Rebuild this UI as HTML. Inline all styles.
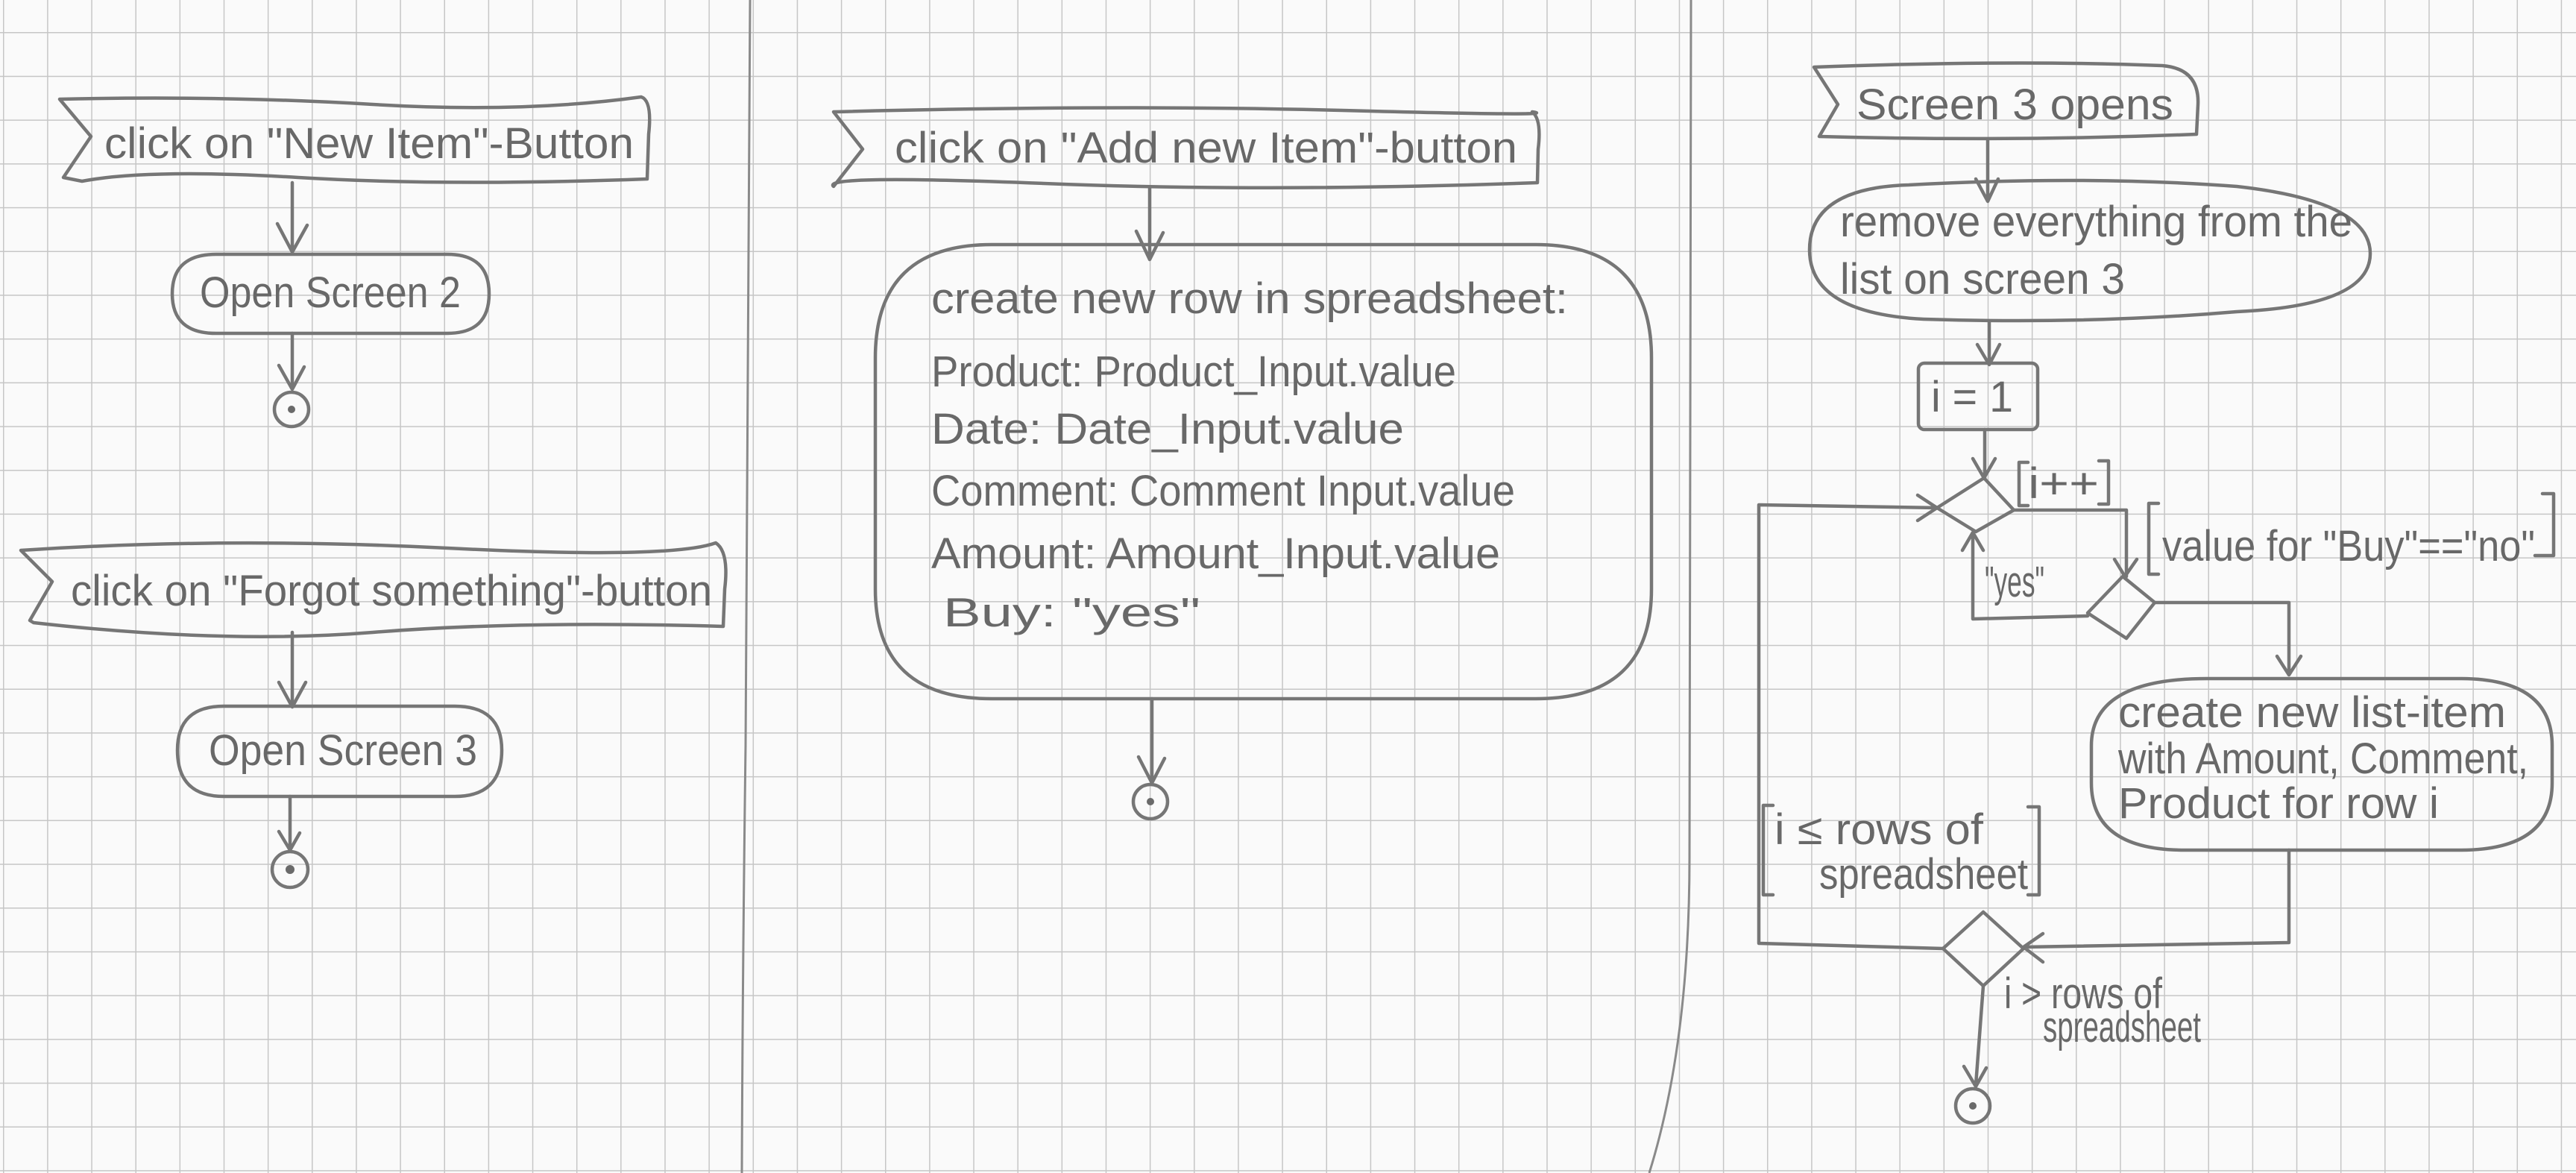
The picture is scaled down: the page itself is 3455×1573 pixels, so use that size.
<!DOCTYPE html>
<html><head><meta charset="utf-8"><style>
html,body{margin:0;padding:0;background:#f9f9f9}
svg{display:block}
text{font-family:"Liberation Sans",sans-serif;fill:#686868}
</style></head><body>
<svg width="3455" height="1573" viewBox="0 0 3455 1573" xmlns="http://www.w3.org/2000/svg">
<defs>
<pattern id="g" patternUnits="userSpaceOnUse" x="4" y="43" width="59.15" height="58.7">
<path d="M0 0V58.7M0 0H59.15" stroke="#c6c6c6" stroke-width="3" fill="none"/>
</pattern>
</defs>
<rect width="3455" height="1573" fill="#fafafa"/>
<rect width="3455" height="1573" fill="url(#g)"/>
<g fill="none" stroke="#8a8a8a" stroke-width="3">
<path d="M1006 0 Q1004 700 1000 1000 T995 1573"/>
<path d="M2268 0 Q2266 900 2266 1150 T2212 1573"/>
</g>
<g fill="none" stroke="#767676" stroke-width="4.5" stroke-linecap="round" stroke-linejoin="round">
<!-- panel 1 -->
<path d="M80 133 Q300 128 500 140 T860 130 Q875 135 870 180 L868 240 Q600 250 400 238 T110 243 L85 238 L122 183 Z"/>
<path d="M392 245 V335 M372 300 L392 338 L412 302"/>
<path d="M290 341 H600 Q656 341 656 394 Q656 447 600 447 H290 Q231 447 231 394 Q231 341 290 341 Z"/>
<path d="M392 447 V520 M374 490 L392 522 L408 492"/>
<circle cx="391" cy="549" r="23"/>
<path d="M28 738 Q300 720 600 735 T960 728 Q978 740 972 790 L970 840 Q700 832 500 848 T45 835 L40 832 L70 780 Z"/>
<path d="M392 848 V945 M374 915 L392 948 L410 915"/>
<path d="M300 947 H610 Q673 947 673 1006 Q673 1068 610 1068 H300 Q238 1068 238 1006 Q238 947 300 947 Z"/>
<path d="M389 1068 V1138 M374 1115 L389 1140 L402 1117"/>
<circle cx="389" cy="1166" r="24"/>
<!-- panel 2 -->
<path d="M1118 150 Q1500 140 1800 148 T2055 150 Q2068 160 2063 200 L2062 245 Q1700 258 1400 246 T1118 250 L1157 200 Z"/>
<path d="M1542 251 V345 M1524 310 L1542 348 L1560 312"/>
<path d="M1330 328 H2060 Q2215 328 2215 480 V790 Q2215 937 2060 937 H1330 Q1174 937 1174 790 V480 Q1174 328 1330 328 Z"/>
<path d="M1545 937 V1048 M1527 1015 L1545 1050 L1562 1017"/>
<circle cx="1543" cy="1075" r="23"/>
<!-- panel 3 -->
<path d="M2433 90 Q2700 80 2900 88 Q2950 92 2948 140 L2946 180 Q2700 190 2440 183 L2465 140 Z"/>
<path d="M2666 187 V268 M2650 240 L2666 270 L2680 240"/>
<path d="M2560 248 Q2800 235 3000 250 Q3179 270 3179 340 Q3179 410 3000 418 Q2800 435 2580 428 Q2427 420 2427 335 Q2427 252 2560 248 Z"/>
<path d="M2668 431 V487 M2652 462 L2668 489 L2682 462"/>
<rect x="2573" y="487" width="160" height="89" rx="8"/>
<path d="M2662 576 V641 M2646 615 L2661 641 L2676 615"/>
<path d="M2661 641 L2701 684 L2650 713 L2598 681 Z"/>
<path d="M2701 684 H2852 V773 M2836 750 L2850 773 L2866 750"/>
<path d="M2847 773 L2890 808 L2852 856 L2800 822 Z"/>
<path d="M2800 826 L2646 830 V716 M2632 738 L2646 714 L2660 738"/>
<path d="M2890 808 H3070 V905 M3054 880 L3070 905 L3086 880"/>
<path d="M2960 910 H3300 Q3423 910 3423 1000 V1050 Q3423 1140 3300 1140 H2930 Q2805 1140 2805 1050 V1000 Q2805 910 2960 910 Z"/>
<path d="M3070 1140 V1264 L2714 1270 M2740 1252 L2714 1270 L2740 1290"/>
<path d="M2660 1223 L2714 1272 L2660 1322 L2606 1272 Z"/>
<path d="M2606 1272 L2359 1265 V677 L2598 681 M2572 664 L2598 681 L2572 698"/>
<path d="M2660 1322 L2650 1455 M2634 1430 L2650 1457 L2664 1432"/>
<circle cx="2646" cy="1483" r="23"/>
<!-- brackets -->
<path d="M2720 620 H2708 V678 H2720 M2815 618 H2828 V676 H2815"/>
<path d="M2895 675 H2882 V770 H2895 M3410 662 H3425 V745 H3400"/>
<path d="M2378 1080 H2365 V1200 H2378 M2720 1082 H2735 V1200 H2720"/>
</g>
<g fill="#6a6a6a">
<circle cx="391" cy="549" r="5"/><circle cx="389" cy="1166" r="6"/><circle cx="1543" cy="1075" r="5"/><circle cx="2646" cy="1483" r="5"/>
</g>
<g font-size="58">
<text x="140" y="212" textLength="710" lengthAdjust="spacingAndGlyphs">click on "New Item"-Button</text>
<text x="268" y="412" textLength="350" lengthAdjust="spacingAndGlyphs">Open Screen 2</text>
<text x="95" y="812" textLength="860" lengthAdjust="spacingAndGlyphs">click on "Forgot something"-button</text>
<text x="280" y="1026" textLength="360" lengthAdjust="spacingAndGlyphs">Open Screen 3</text>
<text x="1200" y="218" textLength="835" lengthAdjust="spacingAndGlyphs">click on "Add new Item"-button</text>
<text x="1249" y="420" textLength="854" lengthAdjust="spacingAndGlyphs">create new row in spreadsheet:</text>
<text x="1249" y="518" textLength="704" lengthAdjust="spacingAndGlyphs">Product: Product_Input.value</text>
<text x="1249" y="595" textLength="634" lengthAdjust="spacingAndGlyphs">Date: Date_Input.value</text>
<text x="1249" y="678" textLength="783" lengthAdjust="spacingAndGlyphs">Comment: Comment Input.value</text>
<text x="1249" y="762" textLength="763" lengthAdjust="spacingAndGlyphs">Amount: Amount_Input.value</text>
<text x="1265" y="840" font-size="55" textLength="345" lengthAdjust="spacingAndGlyphs">Buy: "yes"</text>
<text x="2490" y="160" textLength="425" lengthAdjust="spacingAndGlyphs">Screen 3 opens</text>
<text x="2468" y="317" textLength="687" lengthAdjust="spacingAndGlyphs">remove everything from the</text>
<text x="2468" y="394" textLength="382" lengthAdjust="spacingAndGlyphs">list on screen 3</text>
<text x="2590" y="552" textLength="110" lengthAdjust="spacingAndGlyphs">i = 1</text>
<text x="2720" y="668" textLength="95" lengthAdjust="spacingAndGlyphs">i++</text>
<text x="2900" y="752" textLength="500" lengthAdjust="spacingAndGlyphs">value for "Buy"=="no"</text>
<text x="2662" y="800" textLength="80" lengthAdjust="spacingAndGlyphs">"yes"</text>
<text x="2841" y="975" textLength="520" lengthAdjust="spacingAndGlyphs">create new list-item</text>
<text x="2841" y="1037" textLength="550" lengthAdjust="spacingAndGlyphs">with Amount, Comment,</text>
<text x="2841" y="1097" textLength="430" lengthAdjust="spacingAndGlyphs">Product for row i</text>
<text x="2380" y="1132" textLength="280" lengthAdjust="spacingAndGlyphs">i ≤ rows of</text>
<text x="2440" y="1192" textLength="280" lengthAdjust="spacingAndGlyphs">spreadsheet</text>
<text x="2688" y="1352" textLength="212" lengthAdjust="spacingAndGlyphs">i &gt; rows of</text>
<text x="2740" y="1397" textLength="212" lengthAdjust="spacingAndGlyphs">spreadsheet</text>
</g>
</svg>
</body></html>
